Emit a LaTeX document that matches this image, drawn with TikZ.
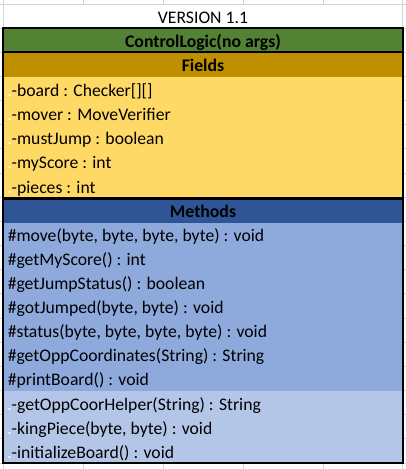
\documentclass[tikz,border=0pt]{standalone}
\usepackage{fontspec}
\setmainfont{Carlito}
\usetikzlibrary{positioning}

\definecolor{titlegreen}{HTML}{548235}
\definecolor{fieldhead}{HTML}{BF8F00}
\definecolor{fieldbody}{HTML}{FFD966}
\definecolor{methodhead}{HTML}{2F5597}
\definecolor{methodbody}{HTML}{8EA9DB}
\definecolor{privbody}{HTML}{B4C6E7}
\definecolor{cellgrid}{HTML}{D4D4D4}

\tikzset{
  gridline/.style={draw=cellgrid, line width=0.75pt},
  border/.style={draw=black, line width=1.6pt},
  celltext/.style={anchor=base west, inner sep=0pt, font=\fontsize{13.25}{15}\selectfont},
  headtext/.style={anchor=base, inner sep=0pt, font=\fontsize{13.3}{15}\selectfont\bfseries},
}
\newcommand{\wdot}{\textcolor{white}{.}}

\begin{document}
\begin{tikzpicture}[x=0.75pt, y=-0.75pt]
\useasboundingbox (0,0) rectangle (406,469);

% sheet grid
\foreach \gx in {3.5,83,163,243,323,402.5}
  \draw[gridline] (\gx,0) -- (\gx,469);
\foreach \i in {0,...,20}
  \draw[gridline] (0,4+24.16*\i) -- (406,4+24.16*\i);
\fill[white] (4.2,4.7) rectangle (402,27.5);

% cell fills
\fill[titlegreen] (3,28.2) rectangle (403,52.3);
\fill[fieldhead] (3,52.3) rectangle (403,76.5);
\fill[fieldbody] (3,76.5) rectangle (403,198.5);
\fill[methodhead] (3,198.5) rectangle (403,222.5);
\fill[methodbody] (3,222.5) rectangle (403,390.6);
\fill[privbody] (3,390.6) rectangle (403,463);

% headings
\node[anchor=base, inner sep=0pt, font=\fontsize{13.25}{15}\selectfont] (version) at (203,23) {VERSION 1.1};
\node[headtext] (classname) at (203,47.5) {ControlLogic(no args)};
\node[headtext] (fields) at (203,71.7) {Fields};
\node[headtext] (methods) at (203,217.5) {Methods};

% fields
\foreach \txt [count=\k] in {{-board : Checker[][]}, {-mover : MoveVerifier},
    {-mustJump : boolean}, {-myScore : int}, {-pieces : int}}
  \node[celltext] (field\k) at (7,96.5+24.16*\k-24.16) {\wdot\txt};

% methods
\foreach \txt [count=\k] in {{\#move(byte, byte, byte, byte) : void}, {\#getMyScore() : int},
    {\#getJumpStatus() : boolean}, {\#gotJumped(byte, byte) : void},
    {\#status(byte, byte, byte, byte) : void}, {\#getOppCoordinates(String) : String},
    {\#printBoard() : void}}
  \node[celltext] (method\k) at (7.5,241+24.16*\k-24.16) {\txt};
\foreach \txt [count=\k] in {{-getOppCoorHelper(String) : String},
    {-kingPiece(byte, byte) : void}, {-initializeBoard() : void}}
  \node[celltext] (helper\k) at (7,410+24.16*\k-24.16) {\wdot\txt};

% thick outlines
\draw[border] (3,28.2) rectangle (403,52.3);
\draw[border] (3,52.3) rectangle (403,198.5);
\draw[border] (3,198.5) rectangle (403,463);
\end{tikzpicture}
\end{document}
